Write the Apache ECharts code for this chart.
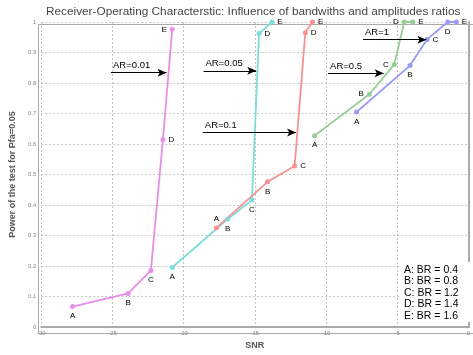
<!DOCTYPE html>
<html>
<head>
<meta charset="utf-8">
<script src="https://cdn.jsdelivr.net/npm/echarts@6/dist/echarts.min.js"></script>
<style>
  html, body { margin: 0; padding: 0; background: #fff; }
  #chart { width: 473px; height: 355px; }
</style>
</head>
<body>
<div id="chart"></div>
<script>
// point letters (bandwidth ratios)
const letters = ['A', 'B', 'C', 'D', 'E']
const brLegend = ['A: BR = 0.4', 'B: BR = 0.8', 'C: BR = 1.2', 'D: BR = 1.4', 'E: BR = 1.6']

// SNR / power per amplitude ratio
const snrAR001 = [-27.8, -23.9, -22.3, -21.45, -20.8]
const powAR001 = [0.067, 0.11, 0.185, 0.615, 0.976]
const snrAR005 = [-20.8, -16.9, -15.2, -14.7, -13.8]
const powAR005 = [0.195, 0.354, 0.416, 0.962, 1.0]
const snrAR01 = [-17.7, -14.1, -12.2, -11.45, -10.95]
const powAR01 = [0.325, 0.476, 0.528, 0.965, 1.0]
const snrAR05 = [-10.8, -6.95, -5.2, -4.5, -3.9]
const powAR05 = [0.627, 0.763, 0.861, 1.0, 1.0]
const snrAR1 = [-7.85, -4.1, -2.9, -1.45, -0.85]
const powAR1 = [0.705, 0.857, 0.943, 1.0, 1.0]

// arrows: [label, xStart, xEnd, y]
const arrows = [
  ['AR=0.01', -25.1, -21.2, 0.834],
  ['AR=0.05', -18.6, -14.9, 0.84],
  ['AR=0.1', -18.65, -12.1, 0.638],
  ['AR=0.5', -9.85, -5.95, 0.832],
  ['AR=1', -7.4, -2.95, 0.942],
]

// where each letter sits relative to its point
const labelPos = [
  ['bottom', 'bottom', 'bottom', 'right', 'left'],
  ['bottom', 'bottom', 'bottom', 'right', 'right'],
  ['top', 'bottom', 'right', 'right', 'right'],
  ['bottom', 'left', 'left', 'left', 'right'],
  ['bottom', 'bottom', 'right', 'bottom', 'right'],
]

const groups = [
  { x: snrAR001, y: powAR001, color: '#e88ee8' },
  { x: snrAR005, y: powAR005, color: '#7fdcdc' },
  { x: snrAR01, y: powAR01, color: '#f79292' },
  { x: snrAR05, y: powAR05, color: '#95cf95' },
  { x: snrAR1, y: powAR1, color: '#9a9af8' },
]

const series = groups.map((g, i) => ({
  type: 'line',
  data: g.x.map((x, j) => ({
    value: [x, g.y[j]],
    label: { position: labelPos[i][j] },
  })),
  symbol: 'circle',
  symbolSize: 5,
  clip: false,
  lineStyle: { width: 1.8, color: g.color },
  itemStyle: { color: g.color },
  label: {
    show: true, distance: 3,
    color: '#000', fontSize: 8, fontFamily: 'Liberation Sans',
    formatter: p => letters[p.dataIndex],
  },
  z: 3,
}))

series.push({
  type: 'line',
  data: [],
  markLine: {
    silent: true,
    symbol: ['none', 'arrow'],
    symbolSize: [6, 9],
    lineStyle: { color: '#000', width: 1, type: 'solid' },
    label: {
      position: 'insideStartTop', distance: 2, padding: 0,
      color: '#000', fontSize: 9.5, fontFamily: 'Liberation Sans',
      formatter: p => p.name,
    },
    data: arrows.map(a => [
      { name: a[0], coord: [a[1], a[3]] },
      { coord: [a[2], a[3]] },
    ]),
  },
})

const chart = echarts.init(document.getElementById('chart'), null, { renderer: 'canvas' })
chart.setOption({
  animation: false,
  title: {
    text: 'Receiver-Operating Characterstic: Influence of bandwiths and amplitudes ratios',
    left: 46, top: 6, padding: 0,
    textStyle: { fontSize: 11.8, fontWeight: 'normal', color: '#444', fontFamily: 'Liberation Sans' },
  },
  grid: { left: 36, right: 0, top: 22, bottom: 24 },
  xAxis: {
    type: 'value', min: -30, max: 0, interval: 5,
    name: 'SNR', nameLocation: 'middle', nameGap: 14,
    nameTextStyle: { fontSize: 9, fontWeight: 'bold', color: '#555', fontFamily: 'Liberation Sans' },
    axisLine: { lineStyle: { color: '#aaa', width: 2 } },
    axisTick: { show: false },
    axisLabel: { fontSize: 6, color: '#888', margin: 3 },
    splitLine: { show: true, lineStyle: { color: '#c4c4c4', type: [2, 2] } },
  },
  yAxis: {
    type: 'value', min: 0, max: 1, interval: 0.1,
    name: 'Power of the test for Pfa=0.05', nameLocation: 'middle', nameGap: 22,
    nameTextStyle: { fontSize: 9, fontWeight: 'bold', color: '#555', fontFamily: 'Liberation Sans' },
    axisLine: { show: true, lineStyle: { color: '#aaa', width: 2 } },
    axisTick: { show: false },
    axisLabel: { fontSize: 6, color: '#888', margin: 5 },
    splitLine: { show: true, lineStyle: { color: '#c4c4c4', type: [2, 2] } },
  },
  graphic: [
    { type: 'rect', left: 36, top: 22, shape: { width: 437, height: 309 },
      style: { fill: 'none', stroke: '#aaa', lineWidth: 1 }, silent: true, z: 0 },
    { type: 'rect', left: 400, top: 262, shape: { width: 73, height: 60 },
      style: { fill: '#fff' }, z: 1 },
    { type: 'text', left: 404, top: 264, z: 2,
      style: { text: brLegend.join('\n'), fontSize: 10.5, lineHeight: 11.5,
        fill: '#000', fontFamily: 'Liberation Sans' } },
  ],
  series,
})
</script>
</body>
</html>
